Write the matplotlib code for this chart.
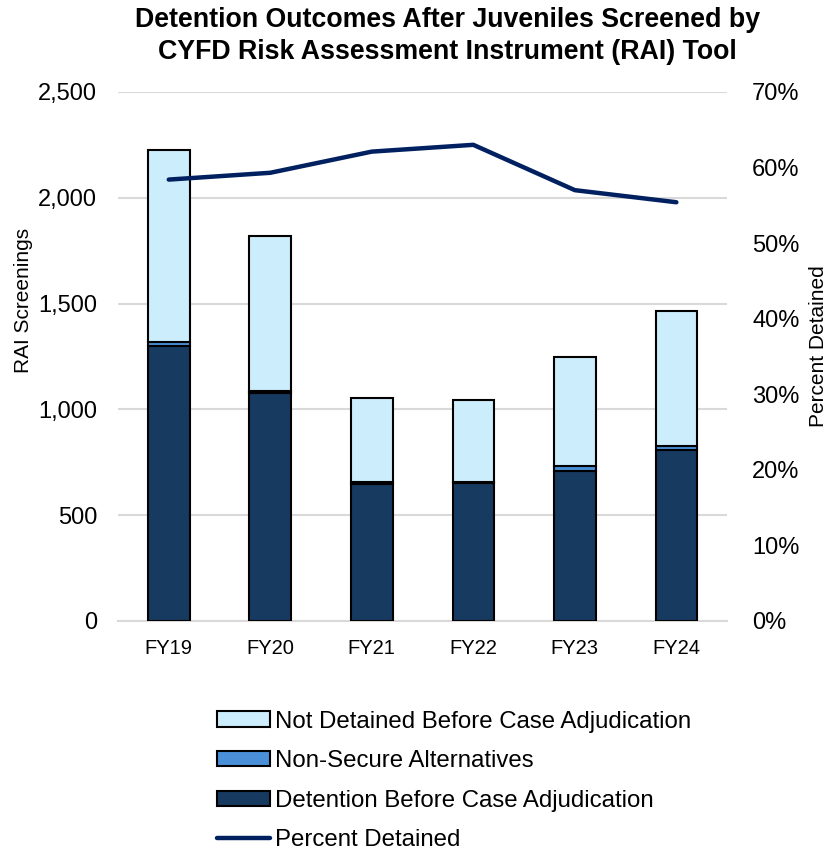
import matplotlib
matplotlib.use("Agg")
import matplotlib.pyplot as plt
from matplotlib.patches import Patch
from matplotlib.lines import Line2D
from matplotlib.ticker import FuncFormatter
import numpy as np

plt.rcParams["font.family"] = ["Liberation Sans", "DejaVu Sans"]

# ---------------------------------------------------------------------------
# Data
# ---------------------------------------------------------------------------
years = ["FY19", "FY20", "FY21", "FY22", "FY23", "FY24"]
detained = [1299, 1075, 648, 650, 710, 808]
non_secure = [17, 10, 10, 6, 20, 20]
not_detained = [911, 734, 394, 388, 518, 636]
pct_detained = [58.4, 59.3, 62.1, 63.0, 57.0, 55.4]

c_not = "#CCEDFB"
c_ns = "#4A90D9"
c_det = "#173A60"
c_line = "#002060"

fig = plt.figure(figsize=(8.31, 8.51), dpi=100)
ax = fig.add_axes([0.142, 0.2703, 0.733, 0.6217])

x = np.arange(len(years))
w = 0.41
det = np.array(detained)
ns = np.array(non_secure)
nd = np.array(not_detained)

kw = dict(width=w, edgecolor="black", linewidth=1.5, zorder=3)
ax.bar(x, det, color=c_det, **kw)
ax.bar(x, ns, bottom=det, color=c_ns, **kw)
ax.bar(x, nd, bottom=det + ns, color=c_not, **kw)

ax.set_xlim(-0.5, len(years) - 0.5)
ax.set_ylim(0, 2500)
ax.set_yticks(range(0, 2501, 500))
ax.yaxis.set_major_formatter(FuncFormatter(lambda v, p: f"{int(v):,}"))
ax.set_xticks(x)
ax.set_xticklabels(years, fontsize=14.5)
ax.tick_params(axis="y", labelsize=17, length=0, pad=15)
ax.tick_params(axis="x", length=0, pad=13)
ax.grid(axis="y", color="#D9D9D9", linewidth=1.5, zorder=0)
ax.set_axisbelow(True)
for s in ["top", "left", "right"]:
    ax.spines[s].set_visible(False)
ax.spines["bottom"].set_color("#D9D9D9")
ax.spines["bottom"].set_linewidth(1.5)
ax.set_ylabel("RAI Screenings", fontsize=15)
ax.yaxis.set_label_coords(-0.14, 0.605)

# -- percent line on the right axis --
ax2 = ax.twinx()
ax2.plot(x, pct_detained, color=c_line, linewidth=3.2, solid_capstyle="round",
         zorder=5)
ax2.set_ylim(0, 70)
ax2.set_yticks(range(0, 71, 10))
ax2.yaxis.set_major_formatter(FuncFormatter(lambda v, p: f"{int(v)}%"))
ax2.tick_params(axis="y", labelsize=17, length=0, pad=18)
for s in ["top", "left", "right", "bottom"]:
    ax2.spines[s].set_visible(False)
ax2.set_ylabel("Percent Detained", fontsize=15)
ax2.yaxis.set_label_coords(1.135, 0.52)

fig.text(0.538, 0.992,
         "Detention Outcomes After Juveniles Screened by\n"
         "CYFD Risk Assessment Instrument (RAI) Tool",
         ha="center", va="top", fontsize=19.3, fontweight="bold",
         linespacing=1.3)

handles = [
    Patch(facecolor=c_not, edgecolor="black", linewidth=1.5),
    Patch(facecolor=c_ns, edgecolor="black", linewidth=1.5),
    Patch(facecolor=c_det, edgecolor="black", linewidth=1.5),
    Line2D([], [], color=c_line, linewidth=3.2, solid_capstyle="round"),
]
labels = ["Not Detained Before Case Adjudication",
          "Non-Secure Alternatives",
          "Detention Before Case Adjudication",
          "Percent Detained"]
fig.legend(handles, labels, loc="upper left", bbox_to_anchor=(0.261, 0.165),
           frameon=False, fontsize=17.3, handlelength=2.2, handleheight=0.6,
           handletextpad=0.2, labelspacing=0.73, borderpad=0, borderaxespad=0)

fig.savefig("out.png", dpi=100)
